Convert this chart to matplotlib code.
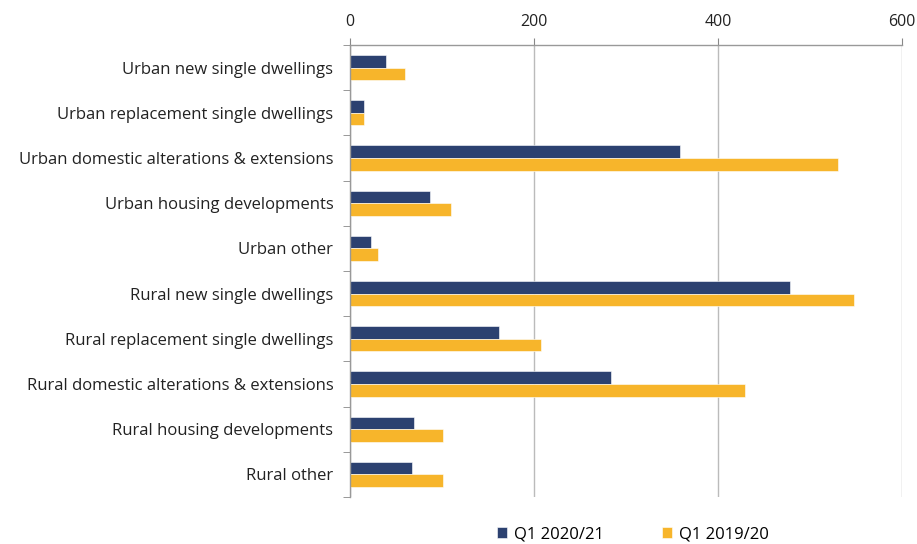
import matplotlib
matplotlib.use("Agg")
import matplotlib.pyplot as plt
import numpy as np

categories = [
    "Urban new single dwellings",
    "Urban replacement single dwellings",
    "Urban domestic alterations & extensions",
    "Urban housing developments",
    "Urban other",
    "Rural new single dwellings",
    "Rural replacement single dwellings",
    "Rural domestic alterations & extensions",
    "Rural housing developments",
    "Rural other",
]
q1_2020_21 = [39, 15, 359, 87, 23, 478, 162, 284, 70, 67]
q1_2019_20 = [60, 15, 530, 110, 30, 548, 208, 429, 101, 101]
series_names = ["Q1 2020/21", "Q1 2019/20"]
xticks = [0, 200, 400, 600]

navy = "#2C4170"
orange = "#F7B52B"

plt.rcParams['font.family'] = ['Open Sans', 'DejaVu Sans']

fig = plt.figure(figsize=(9.17, 5.44), dpi=100)
ax = fig.add_axes([350/917, 1-497/544, (902-350)/917, (497-45)/544])

y = np.arange(len(categories))
h = 0.28
ax.barh(y - h/2, q1_2020_21, height=h, color=navy, label=series_names[0], edgecolor="white", linewidth=0.4)
ax.barh(y + h/2, q1_2019_20, height=h, color=orange, label=series_names[1], edgecolor="white", linewidth=0.4)

ax.set_xlim(0, 600)
ax.set_ylim(len(categories) - 0.5, -0.5)
ax.xaxis.tick_top()
ax.set_xticks(xticks)
ax.set_xticklabels([str(t) for t in xticks], fontsize=11.5, color="#222222")
ax.tick_params(axis="x", direction="out", length=5, color="#888888", pad=6)

ax.set_yticks(y)
ax.set_yticklabels(categories, fontsize=12, color="#222222")
ax.tick_params(axis="y", which="major", length=0, pad=12)
ax.set_yticks(np.arange(-0.5, len(categories)), minor=True)
ax.tick_params(axis="y", which="minor", length=5, color="#888888", direction="out")

ax.grid(axis="x", color="#BBBBBB", linewidth=1)
ax.set_axisbelow(True)
for s in ["right", "bottom"]:
    ax.spines[s].set_visible(False)
for s in ["top", "left"]:
    ax.spines[s].set_color("#999999")
    ax.spines[s].set_linewidth(1)

fig.legend(loc="lower center", bbox_to_anchor=(0.69, -0.025), ncol=2, frameon=False,
           fontsize=12, handlelength=0.6, handleheight=0.6, columnspacing=3.5, handletextpad=0.4)

fig.savefig("out.png", dpi=100)
